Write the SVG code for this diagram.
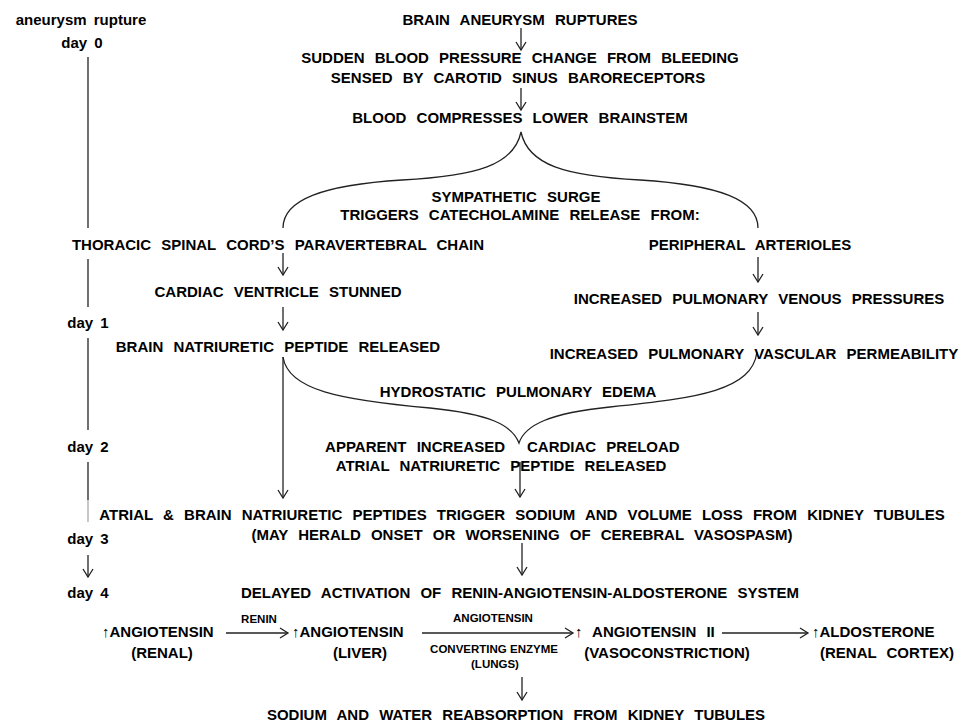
<svg xmlns="http://www.w3.org/2000/svg" width="966" height="723" viewBox="0 0 966 723">
<style>
text{font-family:"Liberation Sans",Arial,sans-serif;font-weight:bold;font-size:15px;fill:#000;word-spacing:6px}
.m{text-anchor:middle}
.s{font-size:11.5px;word-spacing:0}
.l{word-spacing:3px}
.up{font-weight:normal}
.c{fill:none;stroke:#222;stroke-width:1.3}
</style>
<defs>
<marker id="v" viewBox="-10 -6 12 12" markerWidth="12" markerHeight="12" refX="0" refY="0" orient="auto" markerUnits="userSpaceOnUse">
<path d="M-8,-5 L0,0 L-8,5" fill="none" stroke="#222" stroke-width="1.3"/>
</marker>
</defs>
<rect width="966" height="723" fill="#fff"/>

<g id="timeline">
<text class="m l" x="81" y="25">aneurysm rupture</text>
<text class="m l" x="82" y="48">day 0</text>
<text class="m l" x="88" y="328">day 1</text>
<text class="m l" x="88" y="452">day 2</text>
<text class="m l" x="88" y="544">day 3</text>
<text class="m l" x="88" y="598">day 4</text>
</g>

<g id="connectors">
<line class="c" x1="88" y1="57" x2="88" y2="228"/>
<line class="c" x1="88" y1="259" x2="88" y2="307"/>
<line class="c" x1="88" y1="338" x2="88" y2="430"/>
<line class="c" x1="88" y1="462" x2="88" y2="500"/>
<line x1="88" y1="500" x2="88" y2="522" stroke="#aaa" stroke-width="1.3"/>
<line class="c" x1="88" y1="555" x2="88" y2="577" marker-end="url(#v)"/>

<line class="c" x1="521" y1="28" x2="521" y2="50" marker-end="url(#v)"/>
<line class="c" x1="521" y1="88" x2="521" y2="110" marker-end="url(#v)"/>
<path class="c" d="M283,228 C283,200 322,185 402,180 C477,176 514,165 521,132 C528,165 565,176 640,180 C720,185 758,200 758,228"/>
<line class="c" x1="283" y1="253" x2="283" y2="275" marker-end="url(#v)"/>
<line class="c" x1="283" y1="307" x2="283" y2="330" marker-end="url(#v)"/>
<line class="c" x1="758" y1="257" x2="758" y2="282" marker-end="url(#v)"/>
<line class="c" x1="758" y1="312" x2="758" y2="335" marker-end="url(#v)"/>
<path class="c" d="M283,357 C288,390 340,400 430,408 C490,414 512,425 519,443 C525,425 550,413 610,407 C700,398 752,390 757,352"/>
<line class="c" x1="283" y1="357" x2="283" y2="498" marker-end="url(#v)"/>
<line class="c" x1="520" y1="462" x2="520" y2="497" marker-end="url(#v)"/>
<line class="c" x1="522" y1="543" x2="522" y2="575" marker-end="url(#v)"/>
<line class="c" x1="226" y1="633" x2="288" y2="633" marker-end="url(#v)"/>
<line class="c" x1="422" y1="633" x2="573" y2="633" marker-end="url(#v)"/>
<line class="c" x1="722" y1="633" x2="808" y2="633" marker-end="url(#v)"/>
<line class="c" x1="522" y1="677" x2="522" y2="700" marker-end="url(#v)"/>
</g>

<g id="rupture"><text class="m" x="520" y="25">BRAIN ANEURYSM RUPTURES</text></g>
<g id="pressure">
<text class="m" x="520" y="63">SUDDEN BLOOD PRESSURE CHANGE FROM BLEEDING</text>
<text class="m" x="518" y="83">SENSED BY CAROTID SINUS BARORECEPTORS</text>
</g>
<g id="brainstem"><text class="m" x="520" y="123">BLOOD COMPRESSES LOWER BRAINSTEM</text></g>
<g id="surge">
<text class="m" x="516" y="202">SYMPATHETIC SURGE</text>
<text class="m" x="520" y="220">TRIGGERS CATECHOLAMINE RELEASE FROM:</text>
</g>
<g id="thoracic"><text class="m" x="278" y="250">THORACIC SPINAL CORD’S PARAVERTEBRAL CHAIN</text></g>
<g id="peripheral"><text class="m" x="750" y="250">PERIPHERAL ARTERIOLES</text></g>
<g id="stunned"><text class="m" x="278" y="297">CARDIAC VENTRICLE STUNNED</text></g>
<g id="venous"><text class="m" x="759" y="304">INCREASED PULMONARY VENOUS PRESSURES</text></g>
<g id="bnp"><text class="m" x="278" y="352">BRAIN NATRIURETIC PEPTIDE RELEASED</text></g>
<g id="permeability"><text class="m" x="754" y="359">INCREASED PULMONARY VASCULAR PERMEABILITY</text></g>
<g id="edema"><text class="m" x="518" y="397">HYDROSTATIC PULMONARY EDEMA</text></g>
<g id="preload">
<text y="452"><tspan x="505" text-anchor="end">APPARENT INCREASED</tspan><tspan x="527">CARDIAC PRELOAD</tspan></text>
<text class="m" x="501" y="471">ATRIAL NATRIURETIC PEPTIDE RELEASED</text>
</g>
<g id="sodiumloss">
<text class="m" x="522" y="520">ATRIAL &amp; BRAIN NATRIURETIC PEPTIDES TRIGGER SODIUM AND VOLUME LOSS FROM KIDNEY TUBULES</text>
<text class="m" x="522" y="540">(MAY HERALD ONSET OR WORSENING OF CEREBRAL VASOSPASM)</text>
</g>
<g id="raas"><text class="m" x="520" y="598">DELAYED ACTIVATION OF RENIN-ANGIOTENSIN-ALDOSTERONE SYSTEM</text></g>
<g id="angiotensin-renal">
<text x="102" y="637"><tspan class="up">↑</tspan>ANGIOTENSIN</text>
<text class="m" x="162" y="658">(RENAL)</text>
</g>
<g id="renin-label"><text class="m s" x="259" y="623">RENIN</text></g>
<g id="angiotensin-liver">
<text x="292" y="637"><tspan class="up">↑</tspan>ANGIOTENSIN</text>
<text class="m" x="360" y="658">(LIVER)</text>
</g>
<g id="ace-label">
<text class="m s" x="493" y="622">ANGIOTENSIN</text>
<text class="m s" x="494" y="653">CONVERTING ENZYME</text>
<text class="m s" x="495" y="668">(LUNGS)</text>
</g>
<g id="angiotensin2">
<text x="575" y="637"><tspan class="up">↑</tspan> ANGIOTENSIN II</text>
<text class="m" x="667" y="658">(VASOCONSTRICTION)</text>
</g>
<g id="aldosterone">
<text x="812" y="637"><tspan class="up">↑</tspan>ALDOSTERONE</text>
<text class="m" x="887" y="658">(RENAL CORTEX)</text>
</g>
<g id="reabsorption"><text class="m" x="516" y="720">SODIUM AND WATER REABSORPTION FROM KIDNEY TUBULES</text></g>
</svg>
